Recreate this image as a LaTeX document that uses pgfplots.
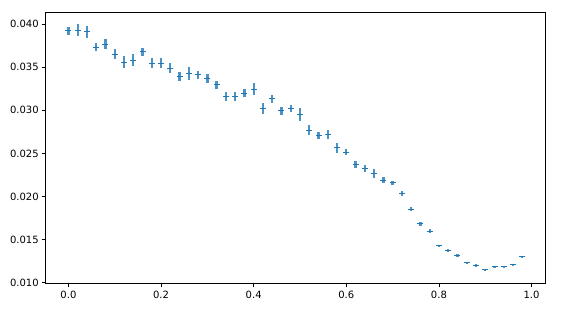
\documentclass[border=0pt]{standalone}
\usepackage{pgfplots}
\pgfplotsset{compat=1.18}
\usepackage{pgfplotstable}
\usepackage{fontspec}
\setmainfont{DejaVu Sans}
\definecolor{c1}{HTML}{1F77B4}
\pgfplotstableread{
x y e
0.00 0.03920 0.00046
0.02 0.03930 0.00070
0.04 0.03910 0.00070
0.06 0.03730 0.00046
0.08 0.03765 0.00058
0.10 0.03650 0.00058
0.12 0.03557 0.00070
0.14 0.03580 0.00070
0.16 0.03676 0.00046
0.18 0.03545 0.00058
0.20 0.03545 0.00060
0.22 0.03487 0.00060
0.24 0.03395 0.00050
0.26 0.03430 0.00075
0.28 0.03410 0.00050
0.30 0.03367 0.00048
0.32 0.03294 0.00042
0.34 0.03163 0.00050
0.36 0.03163 0.00050
0.38 0.03200 0.00048
0.40 0.03244 0.00070
0.42 0.03024 0.00064
0.44 0.03132 0.00042
0.46 0.02993 0.00046
0.48 0.03024 0.00040
0.50 0.02955 0.00075
0.52 0.02770 0.00056
0.54 0.02712 0.00040
0.56 0.02723 0.00052
0.58 0.02565 0.00056
0.60 0.02515 0.00035
0.62 0.02368 0.00040
0.64 0.02330 0.00040
0.66 0.02264 0.00052
0.68 0.02191 0.00030
0.70 0.02160 0.00025
0.72 0.02032 0.00030
0.74 0.01855 0.00023
0.76 0.01685 0.00023
0.78 0.01600 0.00025
0.80 0.01427 0.00017
0.82 0.01373 0.00014
0.84 0.01315 0.00014
0.86 0.01234 0.00012
0.88 0.01196 0.00017
0.90 0.01153 0.00012
0.92 0.01188 0.00012
0.94 0.01188 0.00012
0.96 0.01210 0.00012
0.98 0.01303 0.00012
}\datatable
\begin{document}
\begin{tikzpicture}
\begin{axis}[
  name=ax,
  scale only axis,
  width=499pt, height=271pt,
  xmin=-0.049, xmax=1.029,
  ymin=0.00988, ymax=0.04131,
  xtick={0,0.2,0.4,0.6,0.8,1.0},
  ytick={0.010,0.015,0.020,0.025,0.030,0.035,0.040},
  xticklabel style={/pgf/number format/.cd, fixed, fixed zerofill, precision=1},
  yticklabel style={/pgf/number format/.cd, fixed, fixed zerofill, precision=3},
  scaled y ticks=false, scaled x ticks=false,
  /pgf/number format/assume math mode=true,
  tick label style={font=\fontsize{10}{12}\selectfont, text=black},
  tick align=outside,
  xtick pos=bottom, ytick pos=left,
  major tick length=3.5pt,
  every tick/.style={black, line width=0.8pt},
  axis line style={line width=0.8pt, black},
  clip=false,
]
\addplot[only marks, mark=-, mark size=3pt, mark options={c1, line width=1pt, line cap=butt},
  error bars/.cd, y dir=both, y explicit,
  error bar style={line width=2.3pt, c1, opacity=0.8, line cap=butt},
  error mark=none]
  table[x=x, y=y, y error=e] {\datatable};
\end{axis}
\pgfresetboundingbox
\path ([shift={(-45.7pt,-29pt)}]ax.south west) rectangle ([shift={(21pt,12.7pt)}]ax.north east);
\end{tikzpicture}
\end{document}
